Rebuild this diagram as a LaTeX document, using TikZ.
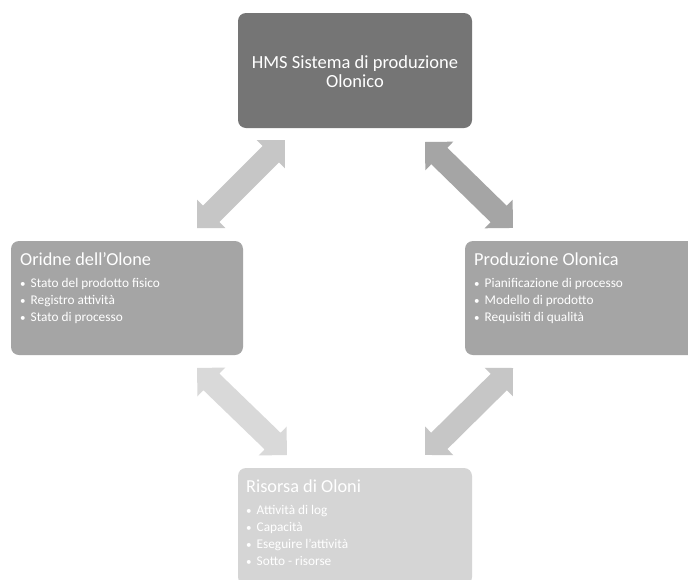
\documentclass[tikz,border=0pt]{standalone}
\usepackage{fontspec}
\setmainfont{Carlito}
\usetikzlibrary{calc}
\definecolor{boxdark}{HTML}{757575}
\definecolor{boxmid}{HTML}{A5A5A5}
\definecolor{boxlight}{HTML}{D5D5D5}
\definecolor{arrmid}{HTML}{C6C6C6}
\definecolor{arrdark}{HTML}{A5A5A5}
\definecolor{arrlight}{HTML}{D9D9D9}
\tikzset{
  holon/.style={draw=none, rounded corners=8pt},
  heading/.style={anchor=base west, inner sep=0pt, text=white, font=\fontsize{18.3}{21}\selectfont},
  items/.style={anchor=north west, inner sep=0pt, text=white, align=left,
                font=\fontsize{13.3}{17}\selectfont},
}
% double-headed block arrow between two named points
\newcommand\holarrow[3]{%
  \fill[#3] let \p1=(#1), \p2=(#2),
    \n1={atan2(\y2-\y1,\x2-\x1)}, \n2={veclen(\x2-\x1,\y2-\y1)} in
    [shift={(\p1)}, rotate=\n1]
    (0,0) -- (20,20) -- (20,11.5) -- (\n2-20,11.5) -- (\n2-20,20) -- (\n2,0)
    -- (\n2-20,-20) -- (\n2-20,-11.5) -- (20,-11.5) -- (20,-20) -- cycle;}
\newcommand\bul{{\fontsize{11}{17}\selectfont\textbullet}\hspace{5pt}}
\begin{document}
\begin{tikzpicture}[x=1pt,y=-1pt]
\useasboundingbox (0,0) rectangle (688,579);
\fill[white] (0,0) rectangle (688,579);

% holon boxes
\fill[holon, boxdark]  (238,13)  rectangle (472,128);
\fill[holon, boxmid]   (11,241)  rectangle (243,355);
\fill[holon, boxmid]   (465,241) rectangle (697,355);
\fill[holon, boxlight] (238,468) rectangle (472,585);
\coordinate (top)    at (355,70);
\coordinate (left)   at (127,298);
\coordinate (right)  at (581,298);
\coordinate (bottom) at (355,526);

\node[align=center, text=white, font=\fontsize{18.5}{19}\selectfont, inner sep=0pt]
  (toptext) at (355,72) {HMS Sistema di produzione\\Olonico};

\node[heading] (lefthead) at (20,265) {Oridne dell'Olone};
\node[items] (leftlist) at (20,278) {\bul Stato del prodotto fisico\\\bul Registro attività\\\bul Stato di processo};

\node[heading] (righthead) at (474,265) {Produzione Olonica};
\node[items] (rightlist) at (474,278) {\bul Pianificazione di processo\\\bul Modello di prodotto\\\bul Requisiti di qualità};

\node[heading] (bottomhead) at (246,492) {Risorsa di Oloni};
\node[items] (bottomlist) at (246,505) {\bul Attività di log\\\bul Capacità\\\bul Eseguire l'attività\\\bul Sotto - risorse};

% arrow end points
\coordinate (tl1) at (197,228); \coordinate (tl2) at (285,140);
\coordinate (tr1) at (425,142); \coordinate (tr2) at (513,228);
\coordinate (bl1) at (197,368); \coordinate (bl2) at (287,455);
\coordinate (br1) at (513,368); \coordinate (br2) at (425,455);

\holarrow{tl1}{tl2}{arrmid}
\holarrow{tr1}{tr2}{arrdark}
\holarrow{bl1}{bl2}{arrlight}
\holarrow{br1}{br2}{arrmid}
\end{tikzpicture}
\end{document}
